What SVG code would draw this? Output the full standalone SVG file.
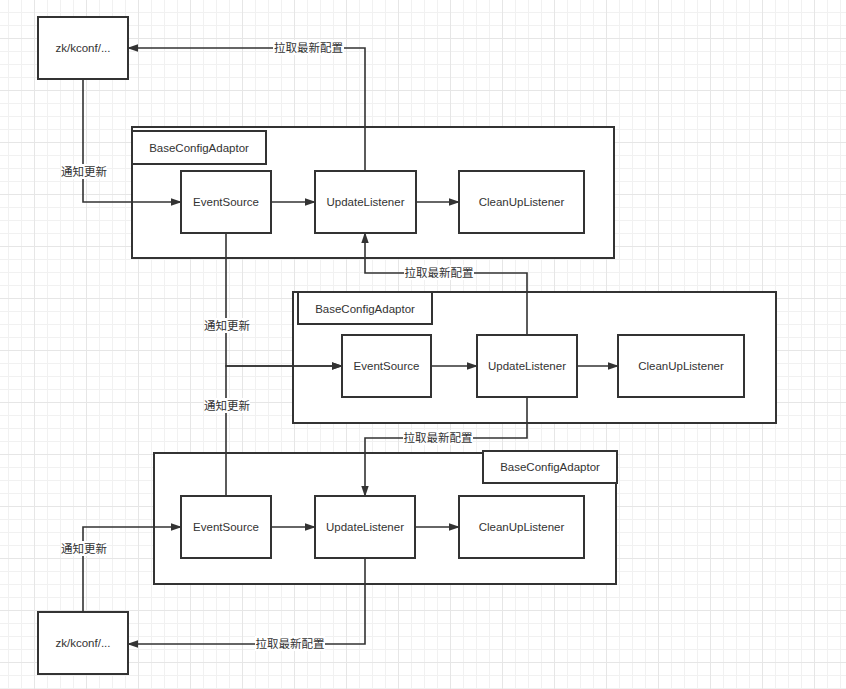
<svg xmlns="http://www.w3.org/2000/svg" width="846" height="689" viewBox="0 0 846 689">
<style>
  .box { fill: #ffffff; stroke: #333333; stroke-width: 2; }
  .t { font-family: "Liberation Sans", "Noto Sans CJK SC", sans-serif; font-size: 11.5px; fill: #333333; text-anchor: middle; dominant-baseline: central; }
  .conn { fill: none; stroke: #333333; stroke-width: 1.6; }
  .lbl-bg { fill: #ffffff; }
</style>
<defs>
  <pattern id="grid" patternUnits="userSpaceOnUse" x="34" y="38" width="52" height="52">
    <rect x="0" y="0" width="52" height="52" fill="#ffffff"/>
    <rect x="13" y="0" width="1" height="52" fill="#f1f1f1"/>
    <rect x="26" y="0" width="1" height="52" fill="#f1f1f1"/>
    <rect x="39" y="0" width="1" height="52" fill="#f1f1f1"/>
    <rect x="0" y="13" width="52" height="1" fill="#f1f1f1"/>
    <rect x="0" y="26" width="52" height="1" fill="#f1f1f1"/>
    <rect x="0" y="39" width="52" height="1" fill="#f1f1f1"/>
    <rect x="0" y="0" width="1" height="52" fill="#e6e6e6"/>
    <rect x="0" y="0" width="52" height="1" fill="#e6e6e6"/>
  </pattern>
  <marker id="arrow" markerUnits="userSpaceOnUse" markerWidth="11" markerHeight="8" refX="10" refY="4" orient="auto">
    <path d="M0,0.3 L11,4 L0,7.7 z" fill="#333333"/>
  </marker>
</defs>
<rect x="0" y="0" width="846" height="689" fill="url(#grid)"/>

<!-- containers -->
<g id="adaptor1">
  <rect class="box" x="132" y="127" width="482" height="131"/>
  <rect class="box" x="132" y="131" width="134" height="33"/>
  <text class="t" x="199" y="147.5">BaseConfigAdaptor</text>
</g>
<g id="adaptor2">
  <rect class="box" x="293" y="292" width="483" height="131"/>
  <rect class="box" x="298" y="292" width="134" height="32"/>
  <text class="t" x="365" y="308.5">BaseConfigAdaptor</text>
</g>
<g id="adaptor3">
  <rect class="box" x="154" y="453" width="462" height="131"/>
  <rect class="box" x="483" y="451" width="134" height="32"/>
  <text class="t" x="550" y="467">BaseConfigAdaptor</text>
</g>

<!-- zk nodes -->
<g id="zk1">
  <rect class="box" x="38" y="17" width="90" height="62"/>
  <text class="t" x="83" y="48">zk/kconf/...</text>
</g>
<g id="zk2">
  <rect class="box" x="38" y="612" width="90" height="62"/>
  <text class="t" x="83" y="643">zk/kconf/...</text>
</g>

<!-- adaptor 1 nodes -->
<g id="es1">
  <rect class="box" x="181" y="171" width="90" height="62"/>
  <text class="t" x="226" y="202">EventSource</text>
</g>
<g id="ul1">
  <rect class="box" x="315" y="171" width="101" height="62"/>
  <text class="t" x="365.5" y="202">UpdateListener</text>
</g>
<g id="cul1">
  <rect class="box" x="459" y="171" width="125" height="62"/>
  <text class="t" x="521.5" y="202">CleanUpListener</text>
</g>

<!-- adaptor 2 nodes -->
<g id="es2">
  <rect class="box" x="342" y="335" width="89" height="62"/>
  <text class="t" x="386.5" y="366">EventSource</text>
</g>
<g id="ul2">
  <rect class="box" x="477" y="335" width="100" height="62"/>
  <text class="t" x="527" y="366">UpdateListener</text>
</g>
<g id="cul2">
  <rect class="box" x="618" y="335" width="126" height="62"/>
  <text class="t" x="681" y="366">CleanUpListener</text>
</g>

<!-- adaptor 3 nodes -->
<g id="es3">
  <rect class="box" x="181" y="496" width="90" height="62"/>
  <text class="t" x="226" y="527">EventSource</text>
</g>
<g id="ul3">
  <rect class="box" x="315" y="496" width="100" height="62"/>
  <text class="t" x="365" y="527">UpdateListener</text>
</g>
<g id="cul3">
  <rect class="box" x="459" y="496" width="125" height="62"/>
  <text class="t" x="521.5" y="527">CleanUpListener</text>
</g>

<!-- connectors -->
<g id="connectors">
  <path class="conn" d="M83,79 V202 H181" marker-end="url(#arrow)"/>
  <path class="conn" d="M365,171 V48 H128" marker-end="url(#arrow)"/>
  <path class="conn" d="M271,202 H315" marker-end="url(#arrow)"/>
  <path class="conn" d="M416,202 H459" marker-end="url(#arrow)"/>
  <path class="conn" d="M527,335 V273 H365 V233" marker-end="url(#arrow)"/>
  <path class="conn" d="M226,233 V366 H342" marker-end="url(#arrow)"/>
  <path class="conn" d="M226,496 V366 H342" marker-end="url(#arrow)"/>
  <path class="conn" d="M431,366 H477" marker-end="url(#arrow)"/>
  <path class="conn" d="M577,366 H618" marker-end="url(#arrow)"/>
  <path class="conn" d="M527,397 V438 H365 V496" marker-end="url(#arrow)"/>
  <path class="conn" d="M83,612 V527 H181" marker-end="url(#arrow)"/>
  <path class="conn" d="M271,527 H315" marker-end="url(#arrow)"/>
  <path class="conn" d="M415,527 H459" marker-end="url(#arrow)"/>
  <path class="conn" d="M365,558 V644 H128" marker-end="url(#arrow)"/>

  <rect class="lbl-bg" x="61" y="164" width="46" height="15"/>
  <text class="t" x="84" y="171.5">通知更新</text>
  <rect class="lbl-bg" x="273" y="40" width="71" height="15"/>
  <text class="t" x="308.5" y="47.5">拉取最新配置</text>
  <rect class="lbl-bg" x="404" y="265" width="70" height="15"/>
  <text class="t" x="439" y="273">拉取最新配置</text>
  <rect class="lbl-bg" x="204" y="318" width="46" height="15"/>
  <text class="t" x="227" y="325.5">通知更新</text>
  <rect class="lbl-bg" x="204" y="398" width="46" height="15"/>
  <text class="t" x="227" y="405.5">通知更新</text>
  <rect class="lbl-bg" x="403" y="430" width="70" height="15"/>
  <text class="t" x="438" y="438">拉取最新配置</text>
  <rect class="lbl-bg" x="61" y="541" width="46" height="15"/>
  <text class="t" x="84" y="548.5">通知更新</text>
  <rect class="lbl-bg" x="255" y="636" width="70" height="15"/>
  <text class="t" x="290" y="644">拉取最新配置</text>
</g>
</svg>
